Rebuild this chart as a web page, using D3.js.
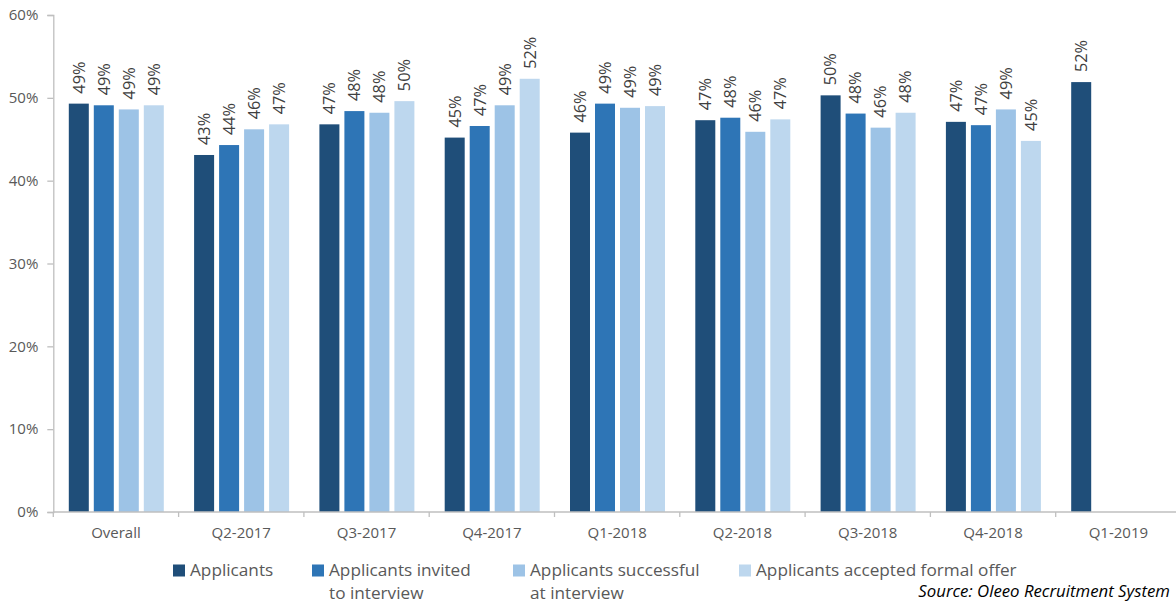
<!DOCTYPE html>
<html>
<head>
<meta charset="utf-8">
<script src="https://cdn.jsdelivr.net/npm/d3@7"></script>
<style>
  html, body { margin: 0; padding: 0; background: #fff; }
  svg { display: block; font-family: "Open Sans", sans-serif; }
</style>
</head>
<body>
<svg id="chart" width="1176" height="604"></svg>
<script>
// ---- data ----
const categories = ["Overall", "Q2-2017", "Q3-2017", "Q4-2017", "Q1-2018", "Q2-2018", "Q3-2018", "Q4-2018", "Q1-2019"];
const seriesNames = ["Applicants", "Applicants invited to interview", "Applicants successful at interview", "Applicants accepted formal offer"];
const applicants         = [49.3, 43.1, 46.8, 45.2, 45.8, 47.3, 50.3, 47.1, 51.9];
const invitedToInterview = [49.1, 44.3, 48.4, 46.6, 49.3, 47.6, 48.1, 46.7, null];
const successfulAtInterv = [48.6, 46.2, 48.2, 49.1, 48.8, 45.9, 46.4, 48.6, null];
const acceptedOffer      = [49.1, 46.8, 49.6, 52.3, 49.0, 47.4, 48.2, 44.8, null];
const yTicks = [0, 10, 20, 30, 40, 50, 60];
const legendLines = [["Applicants"], ["Applicants invited", "to interview"], ["Applicants successful", "at interview"], ["Applicants accepted formal offer"]];
const sourceText = "Source: Oleeo Recruitment System";

// ---- styles/layout ----
const colors = ["#1f4e79", "#2e75b6", "#9dc3e6", "#bdd7ee"];
const axisColor = "#bfbfbf";
const tickTextColor = "#595959";
const labelColor = "#404040";
const allSeries = [applicants, invitedToInterview, successfulAtInterv, acceptedOffer];

const svg = d3.select("#chart");
const x0 = d3.scaleBand().domain(categories).range([53.3, 1181]).paddingInner(0).paddingOuter(0);
const x1 = d3.scaleBand().domain(d3.range(4)).range([15.5, 110.5]).paddingInner(0.2).paddingOuter(0);
const y = d3.scaleLinear().domain([0, 60]).range([512, 15]);

// y axis
const yAxis = svg.append("g").attr("transform", "translate(53.3,0)")
  .call(d3.axisLeft(y).tickValues(yTicks).tickFormat(d => d + "%").tickSize(6).tickPadding(9));
yAxis.select(".domain").attr("stroke", axisColor).attr("stroke-width", 1.3);
yAxis.selectAll(".tick line").attr("stroke", axisColor).attr("stroke-width", 1.3);
yAxis.selectAll(".tick text").attr("fill", tickTextColor).attr("font-size", 15).attr("font-family", "Open Sans");

// bars
const groups = svg.append("g").selectAll("g").data(categories).join("g")
  .attr("transform", d => `translate(${x0(d)},0)`);
groups.each(function(cat, ci) {
  const g = d3.select(this);
  const vals = allSeries.map((s, si) => ({ si, v: s[ci] })).filter(d => d.v != null);
  g.selectAll("rect").data(vals).join("rect")
    .attr("x", d => x1(d.si))
    .attr("width", x1.bandwidth())
    .attr("y", d => y(d.v))
    .attr("height", d => y(0) - y(d.v))
    .attr("fill", d => colors[d.si]);
  g.selectAll("text").data(vals).join("text")
    .attr("transform", d => `translate(${x1(d.si) + x1.bandwidth() / 2},${y(d.v) - 10}) rotate(-90)`)
    .attr("dy", "0.36em")
    .attr("text-anchor", "start")
    .attr("font-size", 16.3)
    .attr("fill", labelColor)
    .text(d => Math.round(d.v) + "%");
});

// x axis
const xAxis = svg.append("g").attr("transform", "translate(0,512)")
  .call(d3.axisBottom(x0).tickSize(0).tickPadding(0));
xAxis.select(".domain").remove();
svg.append("line").attr("x1", 53.3).attr("x2", 1176).attr("y1", 512).attr("y2", 512)
  .attr("stroke", axisColor).attr("stroke-width", 1.3);
svg.append("g").selectAll("line").data(categories).join("line")
  .attr("x1", d => x0(d)).attr("x2", d => x0(d))
  .attr("y1", 512).attr("y2", 517)
  .attr("stroke", axisColor).attr("stroke-width", 1.3);
xAxis.selectAll(".tick text").attr("fill", tickTextColor).attr("font-size", 15)
  .attr("font-family", "Open Sans").attr("dy", null).attr("y", 26);

// legend
const legendX = [173, 312, 513, 739];
const legend = svg.append("g").selectAll("g").data(seriesNames).join("g")
  .attr("transform", (d, i) => `translate(${legendX[i]},0)`);
legend.append("rect").attr("x", 0).attr("y", 564.5).attr("width", 12).attr("height", 12)
  .attr("fill", (d, i) => colors[i]);
legend.each(function(d, i) {
  const g = d3.select(this);
  legendLines[i].forEach((line, li) => {
    g.append("text").attr("x", 17).attr("y", 576 + li * 23.4)
      .attr("font-size", 17.2).attr("fill", tickTextColor).text(line);
  });
});

// source
svg.append("text").attr("x", 1170).attr("y", 597).attr("text-anchor", "end")
  .attr("font-size", 16.8).attr("font-style", "italic").attr("fill", "#000")
  .text(sourceText);
</script>
</body>
</html>
